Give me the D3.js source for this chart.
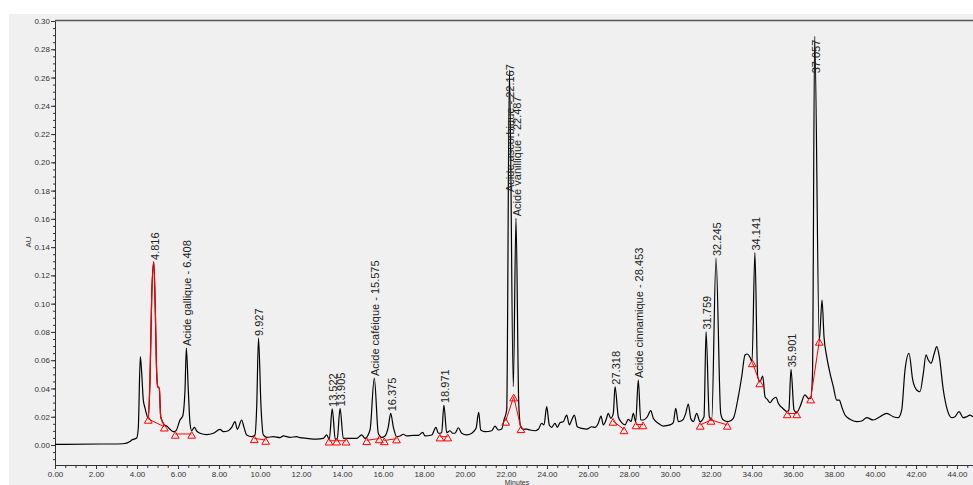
<!DOCTYPE html>
<html>
<head>
<meta charset="utf-8">
<script src="https://cdn.jsdelivr.net/npm/d3@7"></script>
<style>
  body { margin: 0; background: #fff; }
  text { font-family: "Liberation Sans", Arial, sans-serif; }
</style>
</head>
<body>
<div id="main"></div>
<script>
// chromatogram trace, [minutes, AU]
const trace = [
  [0, 0.0004], [2.195, 0.0007], [2.78, 0.0007], [3.317, 0.0009], [3.659, 0.0025],
  [3.741, 0.0035], [3.985, 0.005], [4.063, 0.012], [4.161, 0.0625], [4.229, 0.051],
  [4.307, 0.0318], [4.39, 0.0262], [4.551, 0.019], [4.634, 0.046], [4.717, 0.1049],
  [4.816, 0.1295], [4.878, 0.1049], [4.961, 0.0507], [5.01, 0.0413], [5.088, 0.0401],
  [5.156, 0.02], [5.283, 0.0154], [5.332, 0.0142], [5.449, 0.0134], [5.61, 0.0111],
  [5.771, 0.0094], [5.902, 0.0101], [6.098, 0.0177], [6.229, 0.0205], [6.341, 0.0389],
  [6.408, 0.0686], [6.502, 0.0389], [6.585, 0.0156], [6.668, 0.0101], [6.795, 0.0125],
  [6.912, 0.0099], [7.073, 0.0083], [7.4, 0.0073], [7.722, 0.0083], [8.049, 0.0111],
  [8.21, 0.0094], [8.454, 0.0101], [8.62, 0.0125], [8.78, 0.0165], [8.893, 0.0111],
  [9.107, 0.0177], [9.22, 0.0125], [9.351, 0.0071], [9.595, 0.0059], [9.756, 0.0071],
  [9.839, 0.0271], [9.927, 0.0757], [10.049, 0.0271], [10.161, 0.0071], [10.327, 0.0054],
  [10.649, 0.0059], [10.976, 0.0052], [11.137, 0.0064], [11.463, 0.0054], [11.79, 0.0059],
  [11.951, 0.0052], [12.278, 0.0047], [12.766, 0.0042], [13.088, 0.0047], [13.254, 0.0071],
  [13.38, 0.004], [13.522, 0.0255], [13.673, 0.004], [13.771, 0.0047], [13.905, 0.026],
  [14.063, 0.0047], [14.307, 0.0047], [14.717, 0.0047], [14.961, 0.0071], [15.122, 0.0047],
  [15.366, 0.0106], [15.575, 0.0474], [15.771, 0.0083], [15.937, 0.0054], [16.098, 0.0064],
  [16.259, 0.0129], [16.375, 0.0224], [16.502, 0.0129], [16.668, 0.0059], [16.829, 0.0064],
  [16.99, 0.0076], [17.156, 0.0064], [17.478, 0.0068], [17.722, 0.0068], [17.937, 0.009],
  [18.049, 0.0064], [18.376, 0.0071], [18.585, 0.0125], [18.698, 0.0083], [18.863, 0.0087],
  [18.971, 0.0283], [19.107, 0.0087], [19.268, 0.0101], [19.4, 0.0083], [19.512, 0.0083],
  [19.673, 0.0122], [19.839, 0.0083], [20.083, 0.0071], [20.327, 0.0083], [20.537, 0.0118],
  [20.668, 0.0231], [20.766, 0.0106], [20.976, 0.0094], [21.302, 0.0101], [21.463, 0.0134],
  [21.624, 0.0106], [21.79, 0.0113], [21.902, 0.0177], [22.034, 0.0248], [22.167, 0.2654],
  [22.356, 0.0413], [22.487, 0.1604], [22.62, 0.03], [22.717, 0.0129], [22.844, 0.0111],
  [23.01, 0.0113], [23.171, 0.0106], [23.415, 0.0101], [23.576, 0.0111], [23.741, 0.0154],
  [23.854, 0.0142], [23.985, 0.0271], [24.112, 0.0142], [24.229, 0.0125], [24.39, 0.0154],
  [24.502, 0.0125], [24.634, 0.0158], [24.795, 0.0165], [24.961, 0.0212], [25.088, 0.0142],
  [25.205, 0.0177], [25.332, 0.0212], [25.478, 0.0129], [25.693, 0.0118], [25.937, 0.0113],
  [26.18, 0.0129], [26.341, 0.0125], [26.502, 0.0154], [26.634, 0.0205], [26.746, 0.0142],
  [26.878, 0.0177], [26.99, 0.0224], [27.107, 0.0189], [27.234, 0.0224], [27.318, 0.0413],
  [27.478, 0.02], [27.644, 0.0158], [27.805, 0.0142], [27.966, 0.0182], [28.098, 0.0165],
  [28.21, 0.0224], [28.327, 0.0165], [28.453, 0.046], [28.571, 0.0177], [28.698, 0.0177],
  [28.893, 0.02], [29.059, 0.0243], [29.185, 0.0189], [29.429, 0.0154], [29.673, 0.0134],
  [30.0, 0.0142], [30.161, 0.0158], [30.278, 0.026], [30.405, 0.0165], [30.62, 0.0177],
  [30.766, 0.0224], [30.893, 0.029], [31.01, 0.0189], [31.137, 0.0165], [31.302, 0.0224],
  [31.463, 0.0165], [31.659, 0.02], [31.759, 0.0803], [31.917, 0.02], [32.034, 0.0177],
  [32.245, 0.1323], [32.473, 0.0224], [32.6, 0.0177], [32.844, 0.0165], [33.088, 0.0189],
  [33.332, 0.0342], [33.497, 0.0483], [33.659, 0.0637], [33.771, 0.0644], [33.902, 0.0621],
  [34.0, 0.0589], [34.141, 0.1362], [34.278, 0.0483], [34.39, 0.0448], [34.522, 0.0488],
  [34.634, 0.0342], [34.746, 0.0323], [34.878, 0.0299], [35.01, 0.0323], [35.171, 0.0338],
  [35.283, 0.0295], [35.498, 0.026], [35.722, 0.0236], [35.8, 0.025], [35.901, 0.0536],
  [36.049, 0.0248], [36.18, 0.0229], [36.341, 0.0271], [36.585, 0.0354], [36.746, 0.033],
  [36.863, 0.033], [36.95, 0.05], [37.057, 0.2894], [37.283, 0.0738], [37.415, 0.1026],
  [37.512, 0.0766], [37.644, 0.0625], [37.805, 0.0507], [37.966, 0.0413], [38.132, 0.0318],
  [38.259, 0.0318], [38.376, 0.0271], [38.537, 0.0212], [38.78, 0.0182], [39.107, 0.0165],
  [39.351, 0.017], [39.595, 0.0193], [39.917, 0.0177], [40.244, 0.02], [40.571, 0.0224],
  [40.893, 0.02], [41.137, 0.0193], [41.302, 0.0248], [41.463, 0.0531], [41.659, 0.0649],
  [41.839, 0.046], [42.034, 0.0389], [42.195, 0.0377], [42.356, 0.0507], [42.488, 0.0637],
  [42.6, 0.0601], [42.732, 0.0578], [42.893, 0.0649], [43.01, 0.0696], [43.137, 0.0625],
  [43.332, 0.0389], [43.527, 0.0248], [43.741, 0.0193], [43.902, 0.02], [44.098, 0.0236],
  [44.307, 0.0193], [44.473, 0.02], [44.634, 0.0212], [44.78, 0.02]
];

// integrated peak drawn in red (start / end, minutes)
const redPeak = [4.551, 5.332];

// integration baselines, each one a run of [minutes, AU] marks
const baselines = [
  [[4.551, 0.0184], [5.332, 0.0129]],
  [[5.868, 0.0078], [6.668, 0.0078]],
  [[9.722, 0.0047], [10.278, 0.0035]],
  [[13.366, 0.003], [13.741, 0.003], [14.195, 0.003]],
  [[15.205, 0.0033], [15.82, 0.0046]],
  [[16.064, 0.0032], [16.659, 0.0045]],
  [[18.78, 0.0059], [19.156, 0.0059]],
  [[21.985, 0.017], [22.376, 0.0342], [22.732, 0.0118]],
  [[27.22, 0.017], [27.756, 0.011]],
  [[28.341, 0.0145], [28.683, 0.0145]],
  [[31.473, 0.0142], [32.0, 0.0177], [32.795, 0.0142]],
  [[34.015, 0.0584], [34.376, 0.0442]],
  [[35.722, 0.0223], [36.18, 0.0223]],
  [[36.863, 0.0328], [37.283, 0.0736]]
];

const peakTimes = [4.816, 6.408, 9.927, 13.522, 13.905, 15.575, 16.375, 18.971,
  22.167, 22.487, 27.318, 28.453, 31.759, 32.245, 34.141, 35.901, 37.057];
const peakNames = ['', 'Acide gallique', '', '', '', 'Acide caféique', '', '',
  'Acide ascorbique', 'Acide vanillique', '', 'Acide cinnamique', '', '', '', '', ''];

const yMajor = d3.range(0, 0.3001, 0.02);
const yMinor = d3.range(-0.01, 0.3001, 0.005);
const xMajor = d3.range(0, 44.01, 2);
const xMinor = d3.range(0, 44.8, 0.5);

// SVG

const w = 973;
const h = 485;

const svg = d3.select('#main')
  .append('svg')
  .attr('width', w)
  .attr('height', h);

svg.append('rect')
  .attr('x', 9).attr('y', 14)
  .attr('width', w - 9).attr('height', h - 14)
  .attr('fill', '#f0f0f0');

const x = d3.scaleLinear().domain([0, 44.78]).range([55, 973]);
const y = d3.scaleLinear().domain([-0.01415, 0.30]).range([465, 21]);

// axes

const drawAxis = (g) => {
  g.select('.domain').attr('stroke', '#333');
  g.selectAll('.tick line').attr('stroke', '#333');
  g.selectAll('.tick text').attr('fill', '#333').style('font-size', '8px');
};

svg.append('g')
  .attr('transform', 'translate(55,0)')
  .call(d3.axisLeft(y).tickValues(yMinor).tickSize(2).tickFormat('').tickSizeOuter(0))
  .call(drawAxis);
svg.append('g')
  .attr('transform', 'translate(55,0)')
  .call(d3.axisLeft(y).tickValues(yMajor).tickSize(4).tickPadding(1).tickFormat(d3.format('.2f')).tickSizeOuter(0))
  .call(drawAxis);

svg.append('g')
  .attr('transform', 'translate(0,465)')
  .call(d3.axisBottom(x).tickValues(xMinor).tickSize(3).tickFormat('').tickSizeOuter(0))
  .call(drawAxis);
svg.append('g')
  .attr('transform', 'translate(0,465)')
  .call(d3.axisBottom(x).tickValues(xMajor).tickSize(4).tickPadding(2).tickFormat(d3.format('.2f')).tickSizeOuter(0))
  .call(drawAxis);

// top frame line
svg.append('line')
  .attr('x1', 55).attr('x2', w)
  .attr('y1', 20.5).attr('y2', 20.5)
  .attr('stroke', '#555').attr('stroke-width', 1.5);

svg.append('text')
  .attr('transform', 'translate(31,242) rotate(-90)')
  .attr('text-anchor', 'middle')
  .style('font-size', '8px')
  .attr('fill', '#333')
  .text('AU');

svg.append('text')
  .attr('x', 517).attr('y', 485)
  .attr('text-anchor', 'middle')
  .style('font-size', '7px')
  .attr('fill', '#333')
  .text('Minutes');

// trace

const line = d3.line()
  .x(d => x(d[0]))
  .y(d => y(d[1]))
  .curve(d3.curveMonotoneX);

svg.append('path')
  .datum(trace)
  .attr('d', line)
  .attr('fill', 'none')
  .attr('stroke', '#000')
  .attr('stroke-width', 1.2);

svg.append('path')
  .datum(trace.filter(d => d[0] >= redPeak[0] && d[0] <= redPeak[1]))
  .attr('d', line)
  .attr('fill', 'none')
  .attr('stroke', '#ff0000')
  .attr('stroke-width', 1.2);

// baselines + marks

const baseLine = d3.line().x(d => x(d[0])).y(d => y(d[1]));

svg.selectAll('.baseline')
  .data(baselines)
  .enter()
  .append('path')
  .attr('class', 'baseline')
  .attr('d', baseLine)
  .attr('fill', 'none')
  .attr('stroke', '#ff0000')
  .attr('stroke-width', 1);

const tri = d3.symbol().type(d3.symbolTriangle).size(26);

svg.selectAll('.mark')
  .data(baselines.flat())
  .enter()
  .append('path')
  .attr('class', 'mark')
  .attr('d', tri)
  .attr('transform', d => `translate(${x(d[0])},${y(d[1]) + 2})`)
  .attr('fill', 'none')
  .attr('stroke', '#ff0000')
  .attr('stroke-width', 1);

// peak labels

const apex = (t) => {
  let best = trace[0];
  trace.forEach(d => {
    if (Math.abs(d[0] - t) < 0.06 && d[1] > best[1]) best = d;
  });
  if (Math.abs(best[0] - t) > 0.06) best = [t, 0];
  return best;
};

// labels that would run off the top are dropped lower on the peak
const labelStart = { 8: 0.179, 16: 0.263 };

svg.selectAll('.plabel')
  .data(peakTimes)
  .enter()
  .append('text')
  .attr('class', 'plabel')
  .attr('transform', (d, i) => {
    const px = x(d) + 1;
    const py = labelStart[i] !== undefined ? y(labelStart[i]) : y(apex(d)[1]) - 2;
    return `translate(${px},${py}) rotate(-90)`;
  })
  .attr('dy', '0.35em')
  .style('font-size', '11px')
  .attr('fill', '#222')
  .text((d, i) => peakNames[i] ? `${peakNames[i]} - ${d.toFixed(3)}` : d.toFixed(3));
</script>
</body>
</html>
